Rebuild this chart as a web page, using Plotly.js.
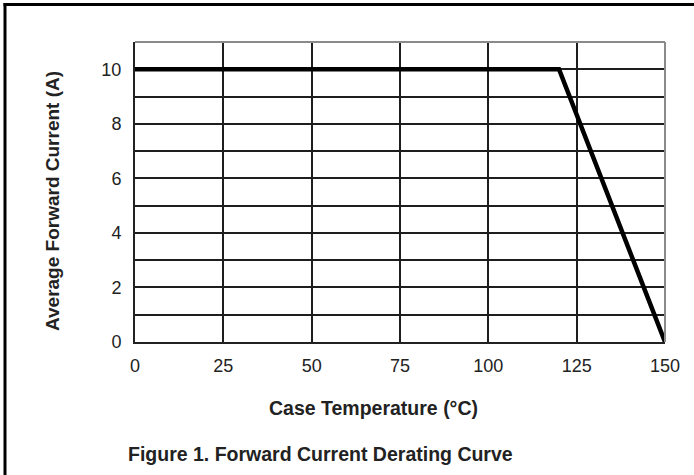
<!DOCTYPE html>
<html>
<head>
<meta charset="utf-8">
<script src="https://cdn.plot.ly/plotly-3.0.1.min.js"></script>
<style>
  html, body { margin: 0; padding: 0; background: #fff; }
  #chart { width: 694px; height: 475px; }
</style>
</head>
<body>
<div id="chart"></div>
<script>
// Data
const caseTemperature = [0, 120, 150];
const forwardCurrent = [10, 10, 0];
const xTickVals = [0, 25, 50, 75, 100, 125, 150];
const yTickVals = [0, 2, 4, 6, 8, 10];
const xTitle = 'Case Temperature (°C)';
const yTitle = 'Average Forward Current (A)';
const caption = 'Figure 1. Forward Current Derating Curve';

// Layout geometry
const W = 694, H = 475;
const M = { l: 135, r: 29, t: 42, b: 133 };
const PW = W - M.l - M.r, PH = H - M.t - M.b;
const px = p => (p - M.l) / PW;
const py = p => (H - M.b - p) / PH;

const FONT = 'Liberation Sans, Arial, sans-serif';
const TXT = '#222';
const GRID = '#1e1e1e';

const trace = {
  x: caseTemperature,
  y: forwardCurrent,
  type: 'scatter',
  mode: 'lines',
  line: { color: '#000', width: 4.5 },
  hoverinfo: 'skip'
};

const layout = {
  width: W, height: H,
  margin: M,
  paper_bgcolor: '#fff',
  plot_bgcolor: '#fff',
  showlegend: false,
  font: { family: FONT, color: TXT, size: 18 },
  xaxis: {
    range: [0, 150],
    tickmode: 'array',
    tickvals: xTickVals,
    showgrid: true, gridcolor: GRID, gridwidth: 2,
    zeroline: false,
    showline: true, linecolor: '#222', linewidth: 2,
    ticks: 'outside', ticklen: 6, tickcolor: 'rgba(0,0,0,0)',
    tickfont: { family: FONT, size: 18, color: TXT },
    fixedrange: true
  },
  yaxis: {
    range: [0, 11],
    tickmode: 'array',
    tickvals: yTickVals,
    showgrid: true, gridcolor: GRID, gridwidth: 2,
    minor: { dtick: 1, tick0: 0, showgrid: true, gridcolor: GRID, gridwidth: 2, ticks: '' },
    zeroline: false,
    showline: true, linecolor: '#222', linewidth: 2,
    ticks: 'outside', ticklen: 8, tickcolor: 'rgba(0,0,0,0)',
    tickfont: { family: FONT, size: 18, color: TXT },
    fixedrange: true
  },
  shapes: [
    // gray top & right plot border
    { type: 'line', xref: 'paper', yref: 'paper', x0: 0, x1: 1, y0: 1, y1: 1, line: { color: '#8a8a8a', width: 2 } },
    { type: 'line', xref: 'paper', yref: 'paper', x0: 1, x1: 1, y0: 0, y1: 1, line: { color: '#8a8a8a', width: 2 } },
    // outer frame (left and top)
    { type: 'line', xref: 'paper', yref: 'paper', x0: px(5), x1: px(5), y0: py(3), y1: py(476), line: { color: '#000', width: 3 } },
    { type: 'line', xref: 'paper', yref: 'paper', x0: px(3.5), x1: px(695), y0: py(4.5), y1: py(4.5), line: { color: '#000', width: 3 } }
  ],
  annotations: [
    { text: '<b>' + xTitle + '</b>', xref: 'paper', yref: 'paper', x: px(373), y: py(408),
      xanchor: 'center', yanchor: 'middle', showarrow: false, font: { family: FONT, size: 19.5, color: TXT } },
    { text: '<b>' + yTitle + '</b>', xref: 'paper', yref: 'paper', x: px(52), y: py(201),
      xanchor: 'center', yanchor: 'middle', textangle: -90, showarrow: false, font: { family: FONT, size: 19, color: TXT } },
    { text: '<b>' + caption + '</b>', xref: 'paper', yref: 'paper', x: px(320), y: py(454),
      xanchor: 'center', yanchor: 'middle', showarrow: false, font: { family: FONT, size: 19.5, color: TXT } }
  ]
};

Plotly.newPlot('chart', [trace], layout, { staticPlot: true, displayModeBar: false });
</script>
</body>
</html>
